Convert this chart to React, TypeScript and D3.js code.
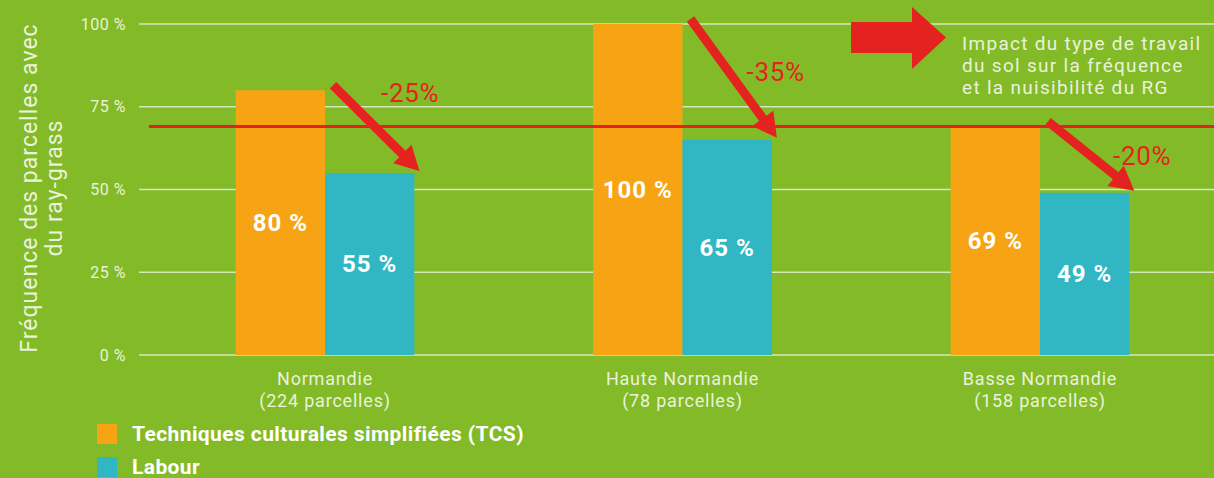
import React from "react";
import * as d3 from "d3";

const categories = ["Normandie", "Haute Normandie", "Basse Normandie"];
const plotCounts = ["(224 parcelles)", "(78 parcelles)", "(158 parcelles)"];
const tcsValues = [80, 100, 69];
const labourValues = [55, 65, 49];
const dropLabels = ["-25%", "-35%", "-20%"];
const yTicks = [0, 25, 50, 75, 100];
const referenceValue = 69;
const noteLines = [
  "Impact du type de travail",
  "du sol sur la fréquence",
  "et la nuisibilité du RG",
];
const legendItems = ["Techniques culturales simplifiées (TCS)", "Labour"];

const W = 1214;
const H = 478;
const BG = "#83BA27";
const ORANGE = "#F7A414";
const TEAL = "#31B7C3";
const RED = "#E42320";
const LIGHT = "#EAF2DC";
const GRID = "#D6E7BC";
const FONT = "Roboto, 'DejaVu Sans', sans-serif";

// per-annotation nudges for the drop labels (relative to the Labour bar)
const dropLabelNudge = [
  [56, 12],
  [64, 57],
  [73, 38],
];

function arrowPath(x1: number, y1: number, x2: number, y2: number, hl = 24, hw = 13) {
  const dx = x2 - x1;
  const dy = y2 - y1;
  const len = Math.hypot(dx, dy);
  const ux = dx / len;
  const uy = dy / len;
  const nx = -uy;
  const ny = ux;
  const bx = x2 - ux * hl;
  const by = y2 - uy * hl;
  const sw = 4.5;
  const pts = [
    [x1 + nx * sw, y1 + ny * sw],
    [bx + nx * sw, by + ny * sw],
    [bx + nx * hw, by + ny * hw],
    [x2, y2],
    [bx - nx * hw, by - ny * hw],
    [bx - nx * sw, by - ny * sw],
    [x1 - nx * sw, y1 - ny * sw],
  ];
  return "M" + pts.map((p) => p.join(",")).join("L") + "Z";
}

export default function App() {
  const x = d3
    .scaleBand<string>()
    .domain(categories)
    .range([146.25, 1218.75])
    .paddingInner(0.5)
    .paddingOuter(0.25);
  const y = d3.scaleLinear().domain([0, 100]).range([355, 24]);
  const bw = x.bandwidth() / 2;

  return (
    <svg
      width={W}
      height={H}
      style={{ position: "absolute", left: 0, top: 0, display: "block" }}
      fontFamily={FONT}
    >
      <rect width={W} height={H} fill={BG} />

      {/* grid + ticks */}
      {yTicks.map((t) => (
        <g key={t}>
          <line x1={139} x2={W} y1={y(t)} y2={y(t)} stroke={GRID} strokeWidth={1.6} />
          <text
            x={126}
            y={y(t)}
            dy="0.35em"
            textAnchor="end"
            fontSize={16}
            letterSpacing={0.5}
            fill={LIGHT}
          >
            {t} %
          </text>
        </g>
      ))}

      {/* y title */}
      <text
        transform={`translate(37,188) rotate(-90)`}
        textAnchor="middle"
        fontSize={23}
        letterSpacing={1}
        fill={LIGHT}
      >
        <tspan x={0} dy={0}>Fréquence des parcelles avec</tspan>
        <tspan x={0} dy={25}>du ray-grass</tspan>
      </text>

      {/* bars */}
      {categories.map((c, i) => {
        const x0 = x(c)!;
        return (
          <g key={c}>
            <rect x={x0} y={y(tcsValues[i])} width={bw} height={y(0) - y(tcsValues[i])} fill={ORANGE} />
            <rect x={x0 + bw} y={y(labourValues[i])} width={bw} height={y(0) - y(labourValues[i])} fill={TEAL} />
          </g>
        );
      })}

      {/* reference line */}
      <line x1={149} x2={W} y1={y(referenceValue)} y2={y(referenceValue)} stroke={RED} strokeWidth={3} />

      {/* value labels */}
      {categories.map((c, i) => {
        const x0 = x(c)!;
        return (
          <g key={c} fontWeight="bold" fontSize={24} letterSpacing={1} fill="#ffffff" textAnchor="middle">
            <text x={x0 + bw / 2} y={(y(tcsValues[i]) + y(0)) / 2} dy="0.35em">
              {tcsValues[i]} %
            </text>
            <text x={x0 + bw * 1.5} y={(y(labourValues[i]) + y(0)) / 2} dy="0.35em">
              {labourValues[i]} %
            </text>
          </g>
        );
      })}

      {/* category labels */}
      {categories.map((c, i) => (
        <text key={c} x={x(c)! + bw} y={385} textAnchor="middle" fontSize={18} letterSpacing={0.8} fill={LIGHT}>
          <tspan x={x(c)! + bw} dy={0}>{c}</tspan>
          <tspan x={x(c)! + bw} dy={21.5}>{plotCounts[i]}</tspan>
        </text>
      ))}

      {/* drop arrows */}
      {categories.map((c, i) => {
        const x0 = x(c)!;
        const sx = x0 + bw + 8;
        const sy = y(tcsValues[i]) - 5;
        const ex = x0 + 2 * bw + 5;
        const ey = y(labourValues[i]) - 2;
        return (
          <g key={c}>
            <path d={arrowPath(sx, sy, ex, ey)} fill={RED} />
            <text
              x={x0 + bw + dropLabelNudge[i][0]}
              y={y(tcsValues[i]) + dropLabelNudge[i][1]}
              fontSize={26}
              letterSpacing={0.7}
              fill={RED}
            >
              {dropLabels[i]}
            </text>
          </g>
        );
      })}

      {/* note with big arrow */}
      <path d="M851,22 L912,22 L912,7 L946,37.5 L912,69 L912,53 L851,53 Z" fill={RED} />
      <text x={962} y={50} fontSize={19} letterSpacing={1.3} fill={LIGHT}>
        {noteLines.map((l, i) => (
          <tspan key={l} x={962} dy={i === 0 ? 0 : 22}>
            {l}
          </tspan>
        ))}
      </text>

      {/* legend */}
      {legendItems.map((l, i) => (
        <g key={l} transform={`translate(97,${424 + i * 33})`}>
          <rect width={20} height={20} fill={i === 0 ? ORANGE : TEAL} />
          <text x={35} y={10} dy="0.35em" fontSize={21} letterSpacing={0.4} fontWeight="bold" fill="#ffffff">
            {l}
          </text>
        </g>
      ))}
    </svg>
  );
}
